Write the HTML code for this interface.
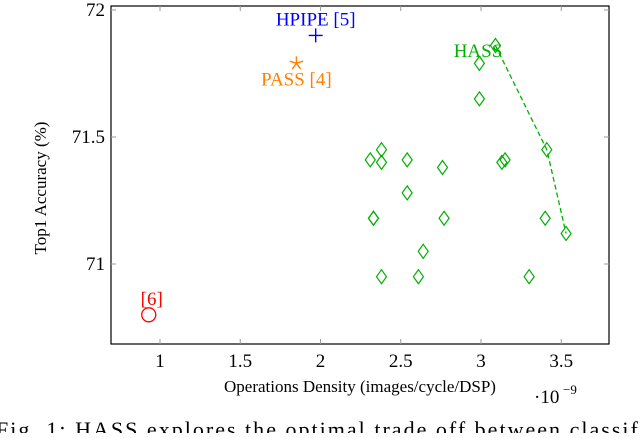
<!DOCTYPE html>
<html><head><meta charset="utf-8"><style>
body{margin:0;background:#fff;width:640px;height:433px;overflow:hidden;font-family:"Liberation Serif",serif}
svg text{font-family:"Liberation Serif",serif}
</style></head><body>
<svg id="chart" width="640" height="433">
<g id="axes"></g><g id="marks"></g>
<text x="-4" y="437" font-size="22" fill="#000" textLength="650" lengthAdjust="spacing">Fig. 1: HASS explores the optimal trade off between classifi</text>
</svg>
<script>
const hassX=[2.31,2.38,2.38,2.33,2.33,2.38,2.54,2.54,2.76,2.77,2.61,2.64,2.99,2.99,3.09,3.13,3.15,3.41,3.40,3.30,3.53];
const hassY=[71.41,71.45,71.40,71.18,71.18,70.95,71.41,71.28,71.38,71.18,70.95,71.05,71.79,71.65,71.86,71.40,71.41,71.45,71.18,70.95,71.12];
const paretoX=[3.09,3.41,3.53];
const paretoY=[71.86,71.45,71.12];
const hpipe=[1.97,71.90];
const pass=[1.85,71.79];
const ref6=[0.93,70.80];
const xTicks=[1,1.5,2,2.5,3,3.5];
const xTickLabels=["1","1.5","2","2.5","3","3.5"];
const yTicks=[71,71.5,72];
const yTickLabels=["71","71.5","72"];
const L=111,R=609,T=6,B=344;
const sx=v=>160+(v-1)*160.5;
const sy=v=>264-(v-71)*254;
const NS="http://www.w3.org/2000/svg";
function mk(tag,attrs,parent,txt){const e=document.createElementNS(NS,tag);for(const k in attrs)e.setAttribute(k,attrs[k]);if(txt!==undefined)e.textContent=txt;parent.appendChild(e);return e;}
const ax=document.getElementById('axes'),mg=document.getElementById('marks');
const frame=mk('rect',{x:L,y:T,width:R-L,height:B-T,fill:'none',stroke:'#000','stroke-width':1.2},ax);


xTicks.forEach((t,i)=>{const x=sx(t);
mk('line',{x1:x,x2:x,y1:B,y2:B-5,stroke:'#999'},ax);mk('line',{x1:x,x2:x,y1:T,y2:T+5,stroke:'#999'},ax);
const lb=mk('text',{x:x,y:B+23,'font-size':19,'text-anchor':'middle'},ax,xTickLabels[i]);

});
yTicks.forEach((t,i)=>{const y=sy(t);
mk('line',{x1:L,x2:L+5,y1:y,y2:y,stroke:'#999'},ax);mk('line',{x1:R,x2:R-5,y1:y,y2:y,stroke:'#999'},ax);
const lb=mk('text',{x:L-6,y:y+6,'font-size':19,'text-anchor':'end'},ax,yTickLabels[i]);

});
const xt=mk('text',{x:360,y:392,'font-size':17,'text-anchor':'middle'},ax,'Operations Density (images/cycle/DSP)');


const xe=mk('text',{x:534,y:403,'font-size':19},ax,'·10');


mk('text',{x:563,y:394,'font-size':13},ax,'−9');
const yt=mk('text',{x:0,y:0,'font-size':17,'text-anchor':'middle',transform:'translate(46,188) rotate(-90)'},ax,'Top1 Accuracy (%)');


const pl=mk('polyline',{points:paretoX.map((x,i)=>sx(x)+','+sy(paretoY[i])).join(' '),fill:'none',stroke:'#00b000','stroke-width':1.3,'stroke-dasharray':'5,3'},mg);


hassX.forEach((x,i)=>{const cx=sx(x),cy=sy(hassY[i]);
const d=mk('polygon',{points:`${cx},${cy-7} ${cx+5},${cy} ${cx},${cy+7} ${cx-5},${cy}`,fill:'none',stroke:'#00b000','stroke-width':1.2},mg);

});
const hl=mk('text',{x:478,y:57,'font-size':19,fill:'#00b000','text-anchor':'middle'},mg,'HASS');


{const cx=sx(hpipe[0]),cy=sy(hpipe[1]);
const g=mk('path',{d:`M${cx-7},${cy}H${cx+7}M${cx},${cy-7}V${cy+7}`,stroke:'#0000ff','stroke-width':1.4},mg);


const t=mk('text',{x:cx,y:cy-10,'font-size':19,fill:'#0000ff','text-anchor':'middle'},mg,'HPIPE [5]');

}
{const cx=sx(pass[0]),cy=sy(pass[1]);
let d='';for(let k=0;k<5;k++){const a=-Math.PI/2+k*2*Math.PI/5;d+=`M${cx},${cy}L${cx+7*Math.cos(a)},${cy+7*Math.sin(a)}`;}
const g=mk('path',{d:d,stroke:'#ff8000','stroke-width':1.4},mg);


const t=mk('text',{x:cx,y:cy+22,'font-size':19,fill:'#ff8000','text-anchor':'middle'},mg,'PASS [4]');

}
{const cx=sx(ref6[0]),cy=sy(ref6[1]);
const c=mk('circle',{cx:cx,cy:cy,r:7,fill:'none',stroke:'#ff0000','stroke-width':1.3},mg);


const t=mk('text',{x:cx+3,y:cy-10,'font-size':19,fill:'#ff0000','text-anchor':'middle'},mg,'[6]');

}
</script>
</body></html>
